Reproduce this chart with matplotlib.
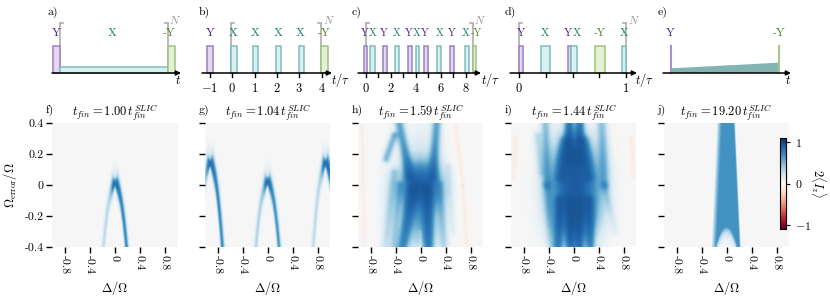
import numpy as np
import matplotlib
matplotlib.use("Agg")
import matplotlib.pyplot as plt
from matplotlib.patches import Rectangle, Polygon

plt.rcParams['font.family'] = ['cmr10', 'DejaVu Serif']
plt.rcParams['mathtext.fontset'] = 'cm'
plt.rcParams['axes.unicode_minus'] = False

W, H = 830, 306
fig = plt.figure(figsize=(W / 100, H / 100), dpi=100)


def px_axes(x0, x1, y0, y1):
    # box given in pixels (y0 = top, y1 = bottom)
    return fig.add_axes([x0 / W, 1 - y1 / H, (x1 - x0) / W, (y1 - y0) / H])


# ---------------- pulse sequences (top row) ----------------
a_start = [0.0, 0.06, 0.94]
a_width = [0.06, 0.88, 0.06]
a_amp = [1, 0.23, 1]
a_kind = ['Y', 'X', '-Y']
a_lab_t = [0.027, 0.49, 0.95]

b_start = [-1.13, -0.08, 0.94, 1.96, 3.0, 3.97]
b_width = [0.27, 0.28, 0.22, 0.22, 0.22, 0.33]
b_kind = ['Y', 'X', 'X', 'X', 'X', '-Y']
b_lab_t = [-1.0, 0.02, 1.03, 2.06, 3.03, 4.12]
b_ticks = [-1, 0, 1, 2, 3, 4]

c_start = [-0.14, 0.37, 1.36, 2.34, 3.37, 3.99, 4.63, 5.69, 6.70, 7.92, 8.53]
c_width = [0.25, 0.37, 0.31, 0.32, 0.32, 0.26, 0.34, 0.32, 0.32, 0.32, 0.27]
c_kind = ['Y', 'X', 'Y', 'X', 'Y', 'X', 'Y', 'X', 'Y', 'X', '-Y']
c_lab_t = [-0.05, 0.58, 1.48, 2.47, 3.45, 4.1, 4.75, 5.93, 6.86, 8.0, 8.8]
c_ticks = [0, 1, 2, 3, 4, 5, 6, 7, 8]

d_start = [0.0, 0.203, 0.455, 0.49, 0.71, 0.96]
d_width = [0.04, 0.087, 0.035, 0.05, 0.09, 0.04]
d_kind = ['Y', 'X', 'Y', 'X', '-Y', 'X']
d_lab_t = [0.02, 0.245, 0.455, 0.537, 0.755, 0.98]
d_ticks = [0, 0.25, 0.5, 0.75, 1]

e_kind = ['Y', '-Y']
e_lab_t = [0.0, 1.0]
e_ramp = [4.7, 10.3]   # teal ramp height at start / end

pulse_face = {'Y': '#e4d8f0', 'X': '#d9f0f0', '-Y': '#e2f0d4'}
pulse_edge = {'Y': '#9b80c4', 'X': '#7fbdbd', '-Y': '#9fc27f'}
text_col = {'Y': '#4b1c7d', 'X': '#1b7b73', '-Y': '#4f7f1f'}
gray = '#b4b4b4'


def top_axes(px_l, px_r, ref):
    (p0, t0), (p1, t1) = ref
    s = (p1 - p0) / (t1 - t0)
    ax = px_axes(px_l, px_r, 8, 95)
    ax.set_xlim(t0 + (px_l - p0) / s, t0 + (px_r - p0) / s)
    ax.set_ylim(-22, 65)   # pixels above the baseline
    ax.axis('off')
    tpx = lambda p: t0 + (p - p0) / s
    return ax, s, tpx


def baseline(ax, tpx, p_start, p_end, label, lab_px):
    ax.annotate('', xy=(tpx(p_end), 0), xytext=(tpx(p_start), 0),
                arrowprops=dict(arrowstyle='-|>', color='k', lw=1.1,
                                mutation_scale=7, shrinkA=0, shrinkB=0),
                zorder=5)
    ax.text(tpx(lab_px), -7, label, fontsize=9, ha='left', va='center')


def bracket(ax, s, t, end=False):
    ax.plot([t, t], [0, 50], color=gray, lw=1.3, zorder=1)
    dx = -3 / s if end else 3 / s
    ax.plot([t, t + dx], [50, 50], color=gray, lw=1.3, zorder=1)
    if end:
        ax.text(t + 1.5 / s, 47, '$N$', color='#999999', fontsize=8,
                ha='left', va='bottom')


def pulses(ax, starts, widths, kinds, amps=None):
    for n, (t, w, k) in enumerate(zip(starts, widths, kinds)):
        h = 27 * (amps[n] if amps else 1)
        ax.add_patch(Rectangle((t, 0), w, h, fc=pulse_face[k],
                               ec=pulse_edge[k], lw=1.1, zorder=3))


def labels(ax, ts, kinds, size=8.5):
    for t, k in zip(ts, kinds):
        ax.text(t, 40, k, color=text_col[k], fontsize=size, ha='center',
                va='center', zorder=6)


def ticks(ax, ts, shown):
    for t in ts:
        ax.plot([t, t], [0, -4], color='k', lw=1, zorder=4)
        if t in shown:
            lab = '$-%g$' % -t if t < 0 else '$%g$' % t
            ax.text(t, -15, lab, fontsize=9, ha='center', va='center')


# a)
ax, s, tpx = top_axes(40, 195, [(52.7, 0), (175, 1)])
bracket(ax, s, 0.06)
bracket(ax, s, 0.94, end=True)
pulses(ax, a_start, a_width, a_kind, a_amp)
labels(ax, a_lab_t, a_kind)
baseline(ax, tpx, 52, 181, '$t$', 175)
ax.text(tpx(47), 61, 'a)', fontsize=8.5, ha='left', va='center')

# b)
ax, s, tpx = top_axes(195, 350, [(210, -1), (321.7, 4)])
bracket(ax, s, -0.06)
bracket(ax, s, 3.97, end=True)
pulses(ax, b_start, b_width, b_kind)
labels(ax, b_lab_t, b_kind)
ticks(ax, b_ticks, b_ticks)
baseline(ax, tpx, 202, 332, '$t/\\tau$', 331)
ax.text(tpx(199), 61, 'b)', fontsize=8.5, ha='left', va='center')

# c)
ax, s, tpx = top_axes(348, 500, [(365.7, 0), (466, 8)])
bracket(ax, s, 0.0)
bracket(ax, s, 8.55, end=True)
pulses(ax, c_start, c_width, c_kind)
labels(ax, c_lab_t, c_kind, size=7.5)
ticks(ax, c_ticks, [0, 2, 4, 6, 8])
baseline(ax, tpx, 358, 481, '$t/\\tau$', 481)
ax.text(tpx(352), 61, 'c)', fontsize=8.5, ha='left', va='center')

# d)
ax, s, tpx = top_axes(500, 652, [(519, 0), (626, 1)])
bracket(ax, s, 0.0)
bracket(ax, s, 1.0, end=True)
pulses(ax, d_start, d_width, d_kind)
labels(ax, d_lab_t, d_kind, size=8)
ticks(ax, d_ticks, [0, 1])
baseline(ax, tpx, 510, 637, '$t/\\tau$', 635)
ax.text(tpx(505), 61, 'd)', fontsize=8.5, ha='left', va='center')

# e)
ax, s, tpx = top_axes(652, 805, [(670.7, 0), (779.3, 1)])
ax.add_patch(Polygon([(0.01, 0), (0.01, e_ramp[0]), (0.99, e_ramp[1]), (0.99, 0)],
                     closed=True, fc='#82b5b1', ec='none', zorder=2))
ax.plot([0, 0], [0, 27], color='#a890cc', lw=1.5, zorder=3)
ax.plot([1, 1], [0, 27], color='#a8c48e', lw=1.5, zorder=3)
labels(ax, e_lab_t, e_kind)
baseline(ax, tpx, 663, 791, '$t$', 785)
ax.text(tpx(658), 61, 'e)', fontsize=8.5, ha='left', va='center')


# ---------------- heat maps (bottom row) ----------------
D = np.linspace(-1, 1, 500)
O = np.linspace(-0.4, 0.4, 300)
DD, OO = np.meshgrid(D, O)
SX, SY = 62.5, 155.0   # pixels per unit of Delta / Omega

# arcs: (vertex Delta, vertex Omega, curvature, left amp, right amp)
f_arcs = [(0.0, 0.01, 12.3, 0.3, 0.9)]
g_arcs = [(-0.92, 0.14, 14.0, 0.3, 0.9),
          (0.0, 0.02, 12.3, 0.35, 0.8),
          (0.93, 0.14, 14.0, 0.3, 0.9)]

# blobs: (Delta, Omega, sigma Delta, sigma Omega, amp)
h_blobs = [(0.0, 0.0, 0.2, 0.1, 1.5),
           (0.0, -0.22, 0.17, 0.14, 0.6),
           (0.0, 0.25, 0.16, 0.12, 0.12),
           (-0.5, -0.15, 0.1, 0.2, 0.12),
           (0.35, -0.15, 0.08, 0.2, 0.15)]
# streaks: (Delta1, Omega1, Delta2, Omega2, width, amp1, amp2)
h_streaks = [(-0.12, -0.02, -0.29, -0.40, 0.065, 0.9, 0.85),
             (0.12, -0.02, 0.13, -0.40, 0.06, 0.9, 0.85),
             (-0.17, 0.05, -0.34, 0.40, 0.055, 0.8, 0.65),
             (0.20, 0.05, 0.26, 0.40, 0.055, 0.8, 0.65),
             (-0.55, 0.17, -0.42, 0.32, 0.045, 0.5, 0.55),
             (-0.42, 0.08, -0.56, -0.40, 0.05, 0.3, 0.2),
             (-0.33, 0.0, -0.43, -0.40, 0.045, 0.35, 0.3),
             (0.30, 0.0, 0.38, -0.40, 0.05, 0.3, 0.25),
             (0.45, 0.12, 0.52, -0.30, 0.04, 0.15, 0.1),
             (-0.94, 0.40, -0.90, -0.40, 0.02, -0.07, -0.06),
             (0.56, 0.40, 0.68, 0.0, 0.025, -0.07, -0.09),
             (0.68, 0.0, 0.74, -0.40, 0.025, -0.09, -0.07),
             (0.0, -0.30, 0.0, -0.40, 0.02, -0.12, -0.15)]

i_blobs = [(0.02, 0.0, 0.25, 0.17, 1.6),
           (0.0, 0.2, 0.14, 0.1, 0.9),
           (0.02, -0.22, 0.22, 0.12, 0.9),
           (-0.45, 0.15, 0.08, 0.2, 0.15),
           (0.48, 0.15, 0.08, 0.2, 0.15)]
i_streaks = [(-0.06, 0.15, -0.07, 0.40, 0.05, 0.9, 0.9),
             (0.09, 0.15, 0.10, 0.40, 0.05, 0.9, 0.9),
             (-0.20, 0.05, -0.12, 0.28, 0.06, 0.6, 0.6),
             (0.24, 0.05, 0.16, 0.28, 0.06, 0.6, 0.6),
             (-0.22, -0.10, -0.25, -0.40, 0.05, 0.8, 0.8),
             (-0.05, -0.10, -0.05, -0.40, 0.05, 0.85, 0.85),
             (0.09, -0.10, 0.09, -0.40, 0.05, 0.85, 0.85),
             (0.25, -0.10, 0.27, -0.40, 0.05, 0.75, 0.7),
             (-0.45, 0.40, -0.42, 0.0, 0.05, 0.4, 0.3),
             (-0.42, 0.0, -0.35, -0.40, 0.05, 0.3, 0.25),
             (-0.58, 0.32, -0.52, 0.08, 0.045, 0.25, 0.15),
             (0.45, 0.40, 0.50, 0.0, 0.055, 0.4, 0.3),
             (0.50, 0.0, 0.67, -0.30, 0.045, 0.25, 0.1),
             (-0.93, 0.30, -0.96, 0.05, 0.035, -0.09, -0.07),
             (0.93, 0.30, 0.97, 0.05, 0.035, -0.07, -0.06),
             (0.64, 0.40, 0.70, 0.18, 0.03, -0.05, -0.05)]

j_left = [-0.14, -0.23]    # band edge at Omega = 0.4 / -0.4
j_right = [0.13, 0.22]
j_hole = [0.0, -0.27, 4.3]  # vertex Delta, vertex Omega, curvature
j_level = 0.82

titles = ['1.00', '1.04', '1.59', '1.44', '19.20']
letters = ['f)', 'g)', 'h)', 'i)', 'j)']


def arcs_field(arcs):
    out = np.zeros_like(DD)
    for d0, o0, k, al, ar in arcs:
        x = DD - d0
        slope = 2 * k * x * SY / SX
        branch = np.where(x < 0, al, ar)
        amp = branch + (1.3 - branch) * np.exp(-(x / 0.05) ** 2)
        sig = 1.3 + 1.5 * np.exp(-(x / 0.06) ** 2)
        for off, a in [(0, 1.0), (6, 0.1), (12, 0.06), (18, 0.035), (-6, 0.06), (-12, 0.04)]:
            curve = o0 + off / SY - k * x ** 2
            dist = (OO - curve) * SY / np.sqrt(1 + slope ** 2)
            w = 1.0 if off == 0 else np.exp(-(x / 0.12) ** 2)
            out += a * w * amp * np.exp(-0.5 * (dist / sig) ** 2)
    return out


def shapes_field(blobs, streaks):
    out = np.zeros_like(DD)
    for dc, oc, sd, so, a in blobs:
        out += a * np.exp(-0.5 * ((DD - dc) / sd) ** 2 - 0.5 * ((OO - oc) / so) ** 2)
    X, Y = DD * SX, OO * SY
    for d1, o1, d2, o2, w, a1, a2 in streaks:
        x1, y1, vx, vy = d1 * SX, o1 * SY, (d2 - d1) * SX, (o2 - o1) * SY
        t = np.clip(((X - x1) * vx + (Y - y1) * vy) / (vx * vx + vy * vy), 0, 1)
        dist2 = (X - x1 - t * vx) ** 2 + (Y - y1 - t * vy) ** 2
        out += (a1 + (a2 - a1) * t) * np.exp(-dist2 / (2 * (w * SX) ** 2))
    return out


def band_field():
    frac = (0.4 - OO) / 0.8
    L = j_left[0] + (j_left[1] - j_left[0]) * frac
    R = j_right[0] + (j_right[1] - j_right[0]) * frac
    inside = 1 / (1 + np.exp(-(DD - L) / 0.004)) / (1 + np.exp(-(R - DD) / 0.004))
    ramp = np.clip((DD - L) / 0.07, 0.25, 1) ** 0.6
    texture = 1 + 0.07 * np.cos(2 * np.pi * 45 * (DD - 0.6 * (OO + 0.4) ** 2))
    val = j_level * inside * ramp * texture
    d0, o0, k = j_hole
    curve = o0 - k * (DD - d0) ** 2
    depth = np.clip(curve - OO, 0, None)
    val = np.where(OO < curve, val * np.exp(-depth / 0.035), val)
    return val


fields = [arcs_field(f_arcs), arcs_field(g_arcs),
          shapes_field(h_blobs, h_streaks), shapes_field(i_blobs, i_streaks),
          band_field()]

for n, field in enumerate(fields):
    field = np.where(field > 0, 0.95 * np.tanh(field / 0.95), field)
    x0 = 52 + 153 * n
    ax = px_axes(x0, x0 + 125, 123, 247)
    im = ax.imshow(field, extent=(-1, 1, -0.4, 0.4), origin='lower',
                   aspect='auto', cmap='RdBu', vmin=-1.1, vmax=1.1,
                   interpolation='bilinear')
    for sp in ax.spines.values():
        sp.set_visible(False)
    ax.set_xticks([-0.8, -0.4, 0, 0.4, 0.8])
    ax.set_xticklabels(['-0.8', '-0.4', '0', '0.4', '0.8'], rotation=-90)
    ax.set_yticks([-0.4, -0.2, 0, 0.2, 0.4])
    if n == 0:
        ax.set_yticklabels(['-0.4', '-0.2', '0', '0.2', '0.4'])
        ax.set_ylabel('$\\Omega_{\\mathrm{error}}/\\Omega$', fontsize=9, labelpad=4)
    else:
        ax.set_yticklabels([])
    ax.tick_params(length=4, width=1, labelsize=8.5, pad=2)
    ax.set_xlabel('$\\Delta/\\Omega$', fontsize=9, labelpad=3)
    ax.set_title('$t_{fin}=%s\\,t_{fin}^{SLIC}$' % titles[n], fontsize=9, pad=4)
    ax.text(-0.05, 1.1, letters[n], transform=ax.transAxes, fontsize=8.5,
            ha='left', va='center')

cax = px_axes(780, 786, 138, 229)
cb = fig.colorbar(im, cax=cax, ticks=[-1, 0, 1])
cb.ax.set_yticklabels(['$-1$', '$0$', '$1$'])
cb.ax.tick_params(labelsize=8.5, length=3, width=0.8)
cb.outline.set_linewidth(0.8)
cb.set_label('$2\\langle I_z\\rangle$', rotation=-90, fontsize=9, labelpad=12)

fig.savefig('out.png', dpi=100)
